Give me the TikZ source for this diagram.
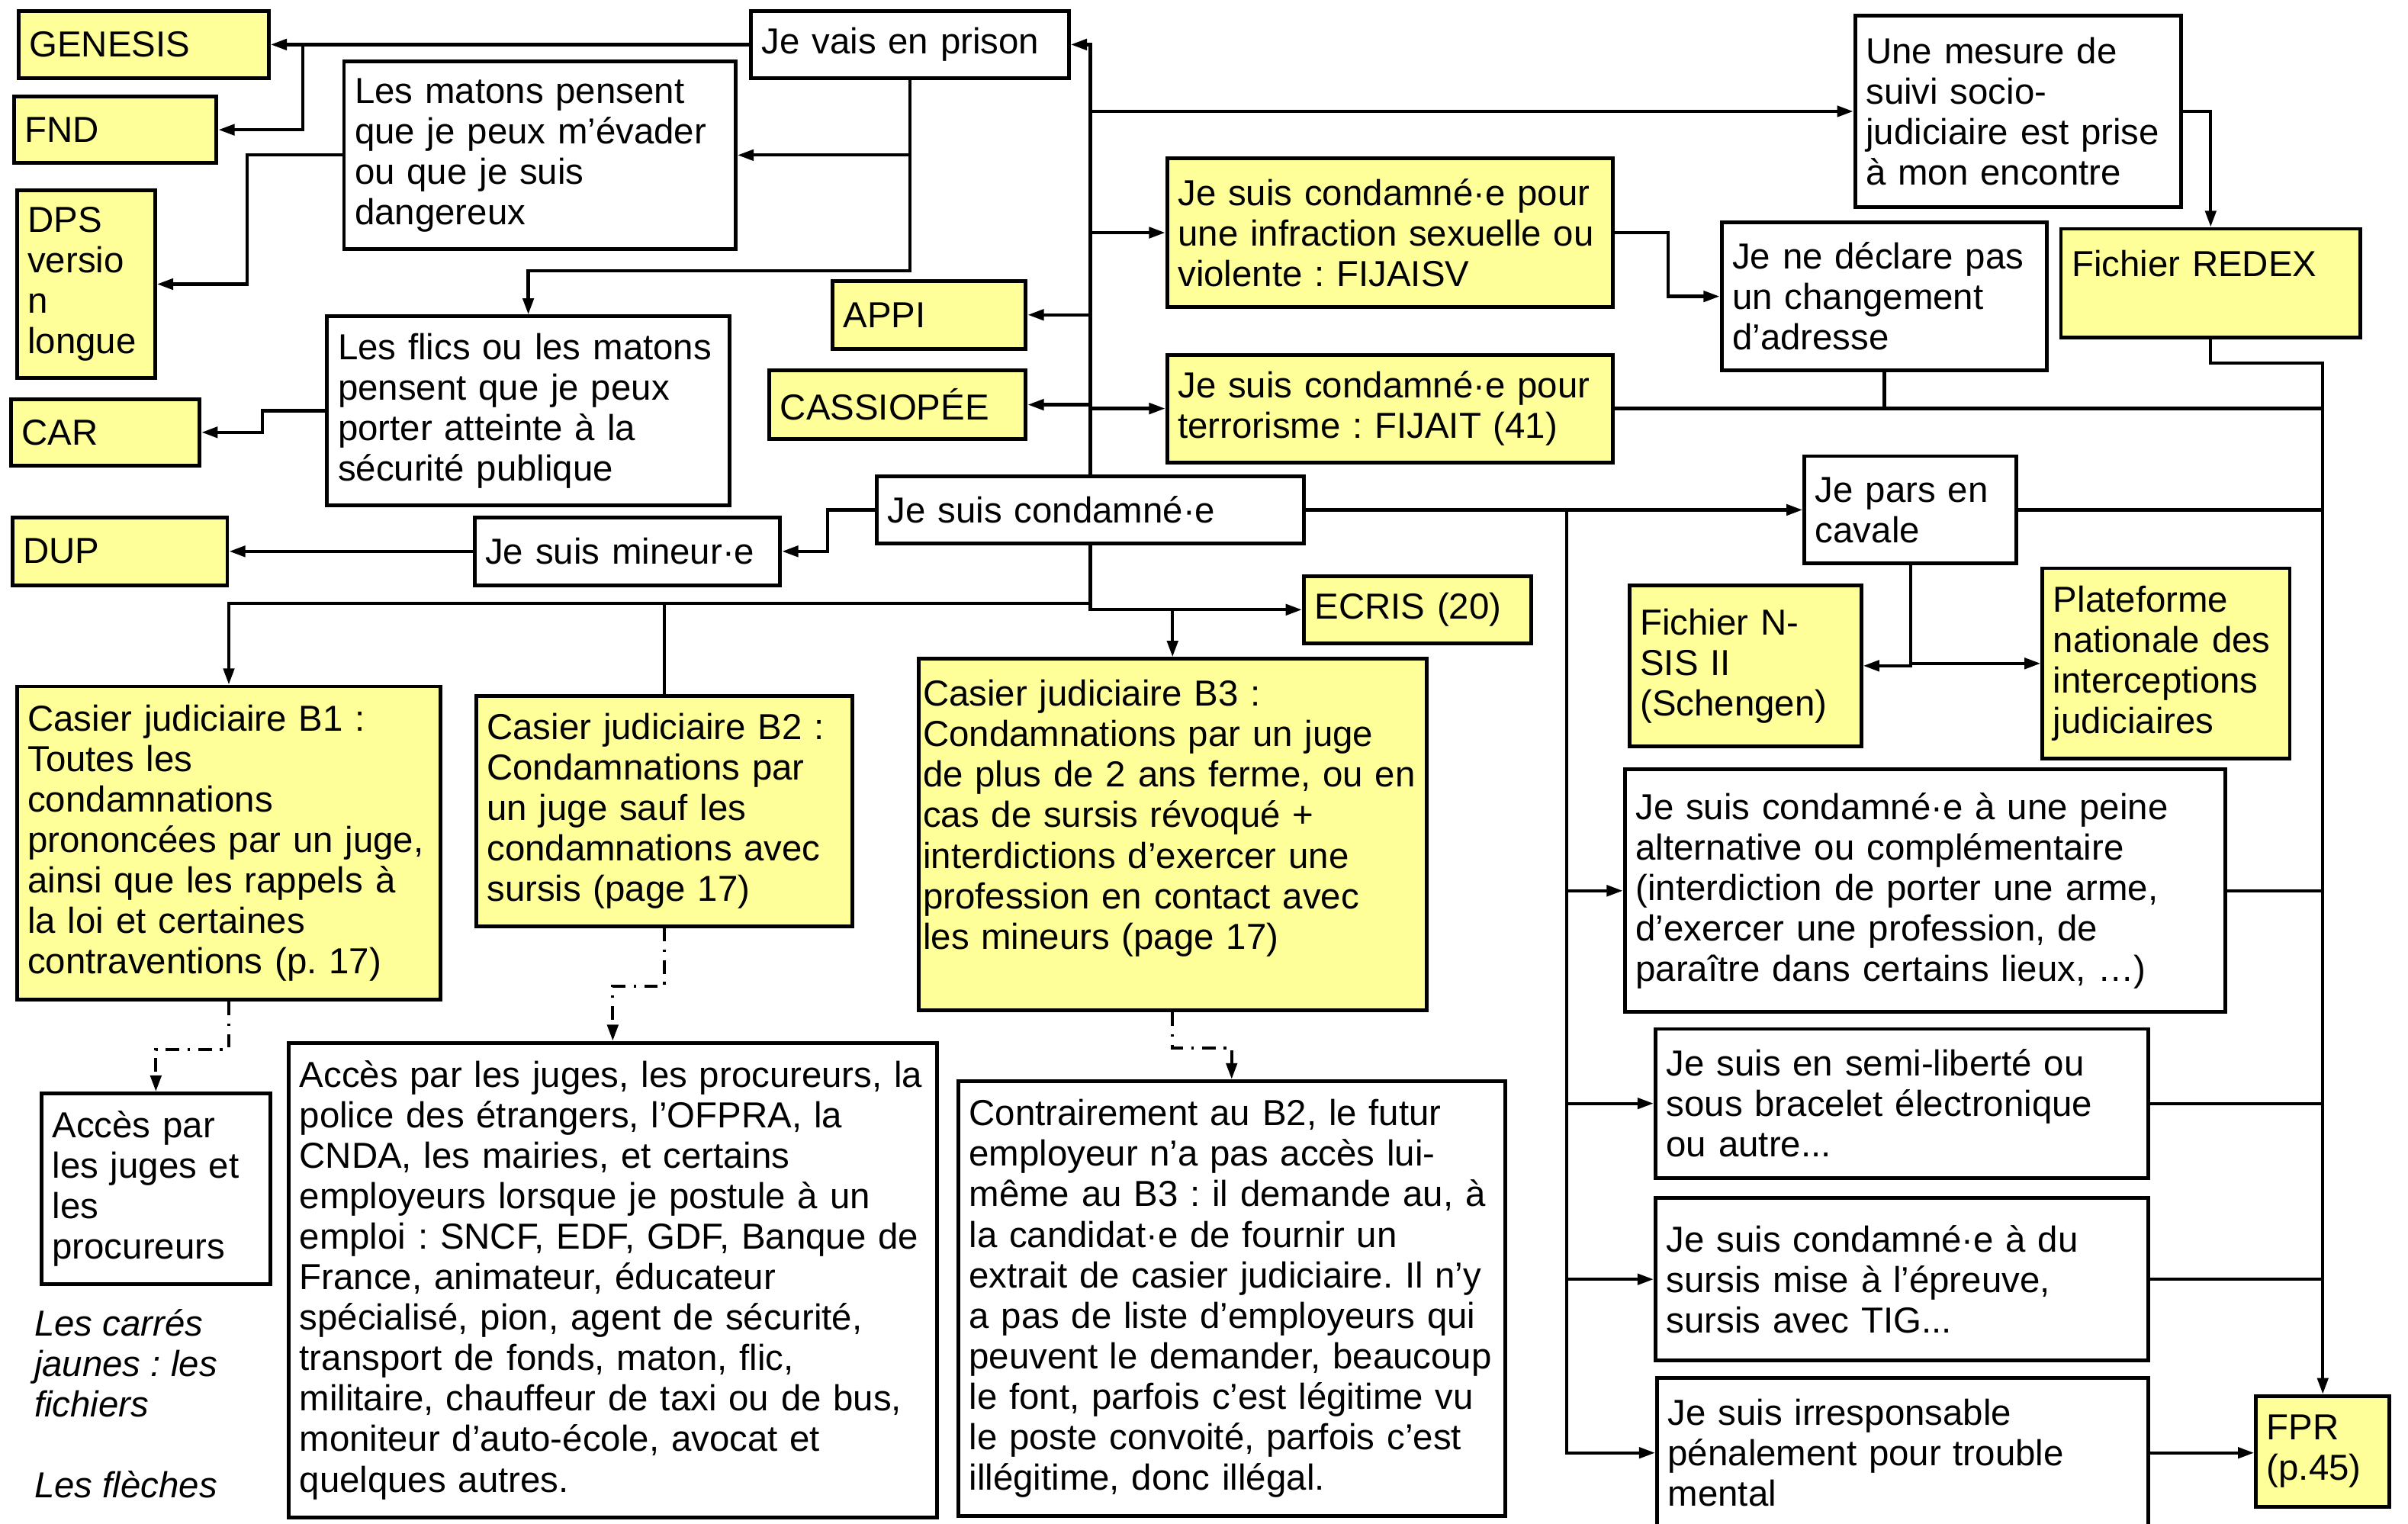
\documentclass[tikz,border=0pt]{standalone}
\usepackage{fontspec}
\setmainfont{Liberation Sans}
\usepackage{xcolor}
\usetikzlibrary{arrows.meta}
\definecolor{fichier}{RGB}{255,255,153}
\newcommand{\boxfont}{\fontsize{13.4pt}{15pt}\selectfont}
\frenchspacing

\begin{document}
\begin{tikzpicture}[x=0.02cm, y=-0.02cm,
  spot/.style n args={4}{at={({(#1+#3)/2},{(#2+#4)/2})},
    minimum width={(#3-#1)*0.02cm}, minimum height={(#4-#2)*0.02cm}},
  wbox/.style={draw, line width=1.4pt, inner sep=0pt, align=left, font=\boxfont},
  ybox/.style={wbox, fill=fichier},
  link/.style={line width=1.2pt},
  arr/.style={link, -{Triangle[length=6pt,width=4pt]}},
  dotarr/.style={arr, dash pattern=on 5pt off 3pt on 1pt off 3pt}]
\useasboundingbox (0,0) rectangle (1568,992);
% fichiers a gauche
\node[ybox, text width=2.98cm, spot={12}{7}{175}{51}] (genesis) {GENESIS};
\node[ybox, text width=2.36cm, spot={9}{63}{141}{106}] (fnd) {FND};
\node[ybox, text width=1.52cm, spot={11}{124}{101}{246}] (dps) {DPS\\versio\\n\\longue};
\node[ybox, text width=2.18cm, spot={7}{260}{130}{303}] (car) {CAR};
\node[ybox, text width=2.52cm, spot={8}{337}{148}{381}] (dup) {DUP};
% prison
\node[wbox, text width=3.86cm, spot={489}{7}{696}{51}] (prison) {Je vais en prison};
\node[wbox, text width=4.82cm, spot={224}{40}{479}{162}] (matons) {Les matons pensent\\que je peux m’évader\\ou que je suis\\dangereux};
\node[wbox, text width=4.96cm, spot={213}{206}{475}{329}] (flics) {Les flics ou les matons\\pensent que je peux\\porter atteinte à la\\sécurité publique};
\node[ybox, text width=2.24cm, spot={542}{183}{668}{227}] (appi) {APPI};
\node[ybox, text width=3.06cm, spot={501}{241}{668}{286}] (cassio) {CASSIOPÉE};
\node[wbox, text width=5.28cm, spot={571}{310}{849}{354}] (condamne) {Je suis condamné·e};
\node[wbox, text width=3.7cm, spot={309}{337}{508}{381}] (mineur) {Je suis mineur·e};
\node[ybox, text width=2.68cm, spot={849}{375}{997}{419}] (ecris) {ECRIS (20)};
% en haut a droite
\node[ybox, text width=5.52cm, spot={760}{103}{1050}{200}] (fijaisv) {Je suis condamné·e pour\\une infraction sexuelle ou\\violente : FIJAISV};
\node[ybox, text width=5.52cm, spot={760}{231}{1050}{301}] (fijait) {Je suis condamné·e pour\\terrorisme : FIJAIT (41)};
\node[wbox, text width=3.96cm, spot={1208}{10}{1420}{135}] (suivi) {Une mesure de\\suivi socio-\\judiciaire est prise\\à mon encontre};
\node[wbox, text width=3.96cm, spot={1121}{145}{1333}{241}] (declare) {Je ne déclare pas\\un changement\\d’adresse};
\node[ybox, text width=3.62cm, spot={1342}{149}{1537}{220}] (redex) {Fichier REDEX\\~};
\node[wbox, text width=2.48cm, spot={1175}{297}{1313}{367}] (cavale) {Je pars en\\cavale};
\node[ybox, text width=2.74cm, spot={1061}{381}{1212}{486}] (nsis) {Fichier N-\\SIS II\\(Schengen)};
\node[ybox, text width=2.94cm, spot={1330}{370}{1491}{494}] (plateforme) {Plateforme\\nationale des\\interceptions\\judiciaires};
\node[wbox, text width=7.54cm, spot={1058}{501}{1449}{659}] (peine) {Je suis condamné·e à une peine\\alternative ou complémentaire\\(interdiction de porter une arme,\\d’exercer une profession, de\\paraître dans certains lieux, …)};
\node[wbox, text width=6.14cm, spot={1078}{670}{1399}{767}] (semi) {Je suis en semi-liberté ou\\sous bracelet électronique\\ou autre...};
\node[wbox, text width=6.14cm, spot={1078}{780}{1399}{886}] (sursis) {Je suis condamné·e à du\\sursis mise à l’épreuve,\\sursis avec TIG...};
\node[wbox, text width=6.12cm, spot={1079}{897}{1399}{995}] (irresp) {Je suis irresponsable\\pénalement pour trouble\\mental};
\node[ybox, text width=1.46cm, spot={1469}{909}{1556}{981}] (fpr) {FPR\\(p.45)};
% casiers
\node[ybox, text width=5.24cm, spot={11}{447}{287}{651}] (b1) {Casier judiciaire B1 :\\Toutes les\\condamnations\\prononcées par un juge,\\ainsi que les rappels à\\la loi et  certaines\\contraventions (p. 17)};
\node[ybox, text width=4.62cm, spot={310}{453}{555}{603}] (b2) {Casier judiciaire B2 :\\Condamnations par\\un juge sauf les\\condamnations avec\\sursis (page 17)};
\node[ybox, text width=6.5cm, spot={598}{429}{929}{658}] (b3) {Casier judiciaire B3 :\\Condamnations par un juge\\de plus de 2 ans ferme, ou en\\cas de sursis révoqué +\\interdictions d’exercer une\\profession en contact avec\\les mineurs (page 17)\\~};
\node[wbox, text width=2.7cm, spot={27}{712}{176}{836}] (acces1) {Accès par\\les juges et\\les\\procureurs};
\node[wbox, text width=8.16cm, spot={188}{679}{610}{988}] (acces2) {Accès par les juges, les procureurs, la\\police des étrangers, l’OFPRA, la\\CNDA, les mairies, et certains\\employeurs lorsque je postule à un\\emploi : SNCF, EDF, GDF, Banque de\\France, animateur, éducateur\\spécialisé, pion, agent de sécurité,\\transport de fonds, maton, flic,\\militaire, chauffeur de taxi ou de bus,\\moniteur d’auto-école, avocat et\\quelques autres.};
\node[wbox, text width=6.84cm, spot={624}{704}{980}{987}] (contraire) {Contrairement au B2, le futur\\employeur n’a pas accès lui-\\même au B3 : il demande au, à\\la candidat·e de fournir un\\extrait de casier judiciaire. Il n’y\\a pas de liste d’employeurs qui\\peuvent le demander, beaucoup\\le font, parfois c’est légitime vu\\le poste convoité, parfois c’est\\illégitime, donc illégal.};
\node[font=\boxfont\itshape, align=left, inner sep=0pt, anchor=north west] (legende) at (22,852) {Les carrés\\jaunes : les\\fichiers\\[15pt]Les flèches};
% fleches
\coordinate (jg) at (197,29);
\coordinate (down) at (710,393);
\coordinate (side) at (1020,332);
\draw[arr] (prison.west) -- (genesis.east);
\draw[arr] (jg) |- (fnd.east);
\draw[arr] (prison.south |- matons.east) -- (matons.east);
\draw[arr] (prison.south) -- ++(0,124) -| (flics.north);
\draw[arr] (matons.west) -- ++(-62,0) |- (dps.east);
\draw[arr] (flics.west) -- ++(-41,0) |- (car.east);
\draw[arr] (condamne.north) |- (prison.east);
\draw[arr] (condamne.north |- suivi.west) -- (suivi.west);
\draw[arr] (condamne.north |- fijaisv.west) -- (fijaisv.west);
\draw[arr] (condamne.north |- appi.east) -- (appi.east);
\draw[arr] (condamne.north |- cassio.east) -- (cassio.east);
\draw[arr] (condamne.north |- fijait.west) -- (fijait.west);
\draw[arr] (condamne.west) -- ++(-31,0) |- (mineur.east);
\draw[arr] (mineur.west) -- (dup.east);
\draw[arr] (condamne.south) |- (ecris.west);
\draw[arr] (down) -| (b1.north);
\draw[link] (b2.north |- down) -- (b2.north);
\draw[arr] (b3.north |- ecris.west) -- (b3.north);
\draw[arr] (condamne.east) -- (cavale.west);
\draw[arr] (side) |- (peine.west);
\draw[arr] (side) |- (semi.west);
\draw[arr] (side) |- (sursis.west);
\draw[arr] (side) |- (irresp.west);
\draw[arr] (fijaisv.east) -- ++(35,0) |- (declare.west);
\draw[arr] (suivi.east) -| (redex.north);
\draw[arr] (redex.south) -- ++(0,15) -| (fpr.north);
\draw[link] (fijait.east) -- (fijait.east -| fpr.north);
\draw[link] (declare.south) -- (declare.south |- fijait.east);
\draw[link] (cavale.east) -- (cavale.east -| fpr.north);
\draw[link] (peine.east) -- (peine.east -| fpr.north);
\draw[link] (semi.east) -- (semi.east -| fpr.north);
\draw[link] (sursis.east) -- (sursis.east -| fpr.north);
\draw[arr] (irresp.east) -- (irresp.east -| fpr.west);
\draw[arr] (cavale.south) |- (nsis.east);
\draw[arr] (cavale.south) |- (plateforme.west);
\draw[dotarr] (b1.south) -- ++(0,31) -| (acces1.north);
\draw[dotarr] (b2.south) -- ++(0,38) -| (acces2.north);
\draw[dotarr] (b3.south) -- ++(0,23) -| (contraire.north);
\end{tikzpicture}
\end{document}
